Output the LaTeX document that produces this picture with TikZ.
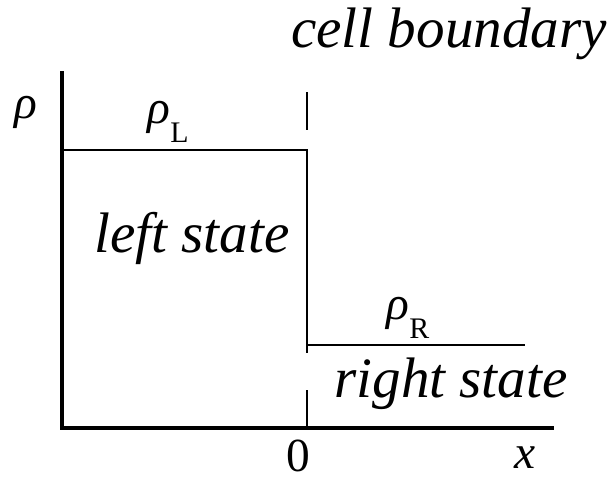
\documentclass[tikz,border=0pt]{standalone}
\usepackage{fontspec}
\setmainfont{Liberation Serif}
\usetikzlibrary{positioning}
\tikzset{
  axis/.style={line width=2.3pt, line cap=rect},
  level/.style={line width=0.8pt},
  boundary/.style={line width=0.8pt},
  statetext/.style={font=\fontsize{32.5}{38}\selectfont\itshape, inner sep=0pt},
  symb/.style={font=\fontsize{27}{30}\selectfont, inner sep=0pt}
}
\newcommand{\sublab}[1]{\raisebox{-0.4em}{\fontsize{17}{19}\selectfont #1}}

\begin{document}
\begin{tikzpicture}[x=0.02cm, y=-0.02cm]
\useasboundingbox (0,0) rectangle (614,480);
% ---- axes ----
\coordinate (top) at (62,73);
\coordinate (origin) at (62,428);
\coordinate (xend) at (552,428);
\draw[axis] (top) -- (origin) -- (xend);
% ---- step (left and right states) ----
\coordinate (lstart) at (62,150);
\coordinate (jumptop) at (307,150);
\coordinate (jumpbot) at (307,345);
\coordinate (rend) at (525,345);
\draw[level] (lstart) -- (jumptop) -- (jumpbot) -- (rend);
% ---- cell boundary dashes ----
\draw[boundary] (307,92) -- (307,130);
\draw[boundary] (jumpbot) -- (307,353);
\draw[boundary] (307,390) -- (origin -| jumpbot);
% ---- labels ----
\node[statetext, anchor=base] (cellb) at (449,47) {cell boundary};
\node[statetext, anchor=base] (lstate) at (192,252) {left state};
\node[statetext, anchor=base] (rstate) at (451,397) {right state};
\node[symb] (rho) at (26,112) {\itshape ρ};
\node[symb] (rhoL) at (168,122) {\itshape ρ\upshape\sublab{L}};
\node[symb] (rhoR) at (408,318) {\itshape ρ\upshape\sublab{R}};
\node[symb] (zero) at (298,456) {0};
\node[symb] (xlab) at (525,458) {\itshape x};
\end{tikzpicture}
\end{document}
